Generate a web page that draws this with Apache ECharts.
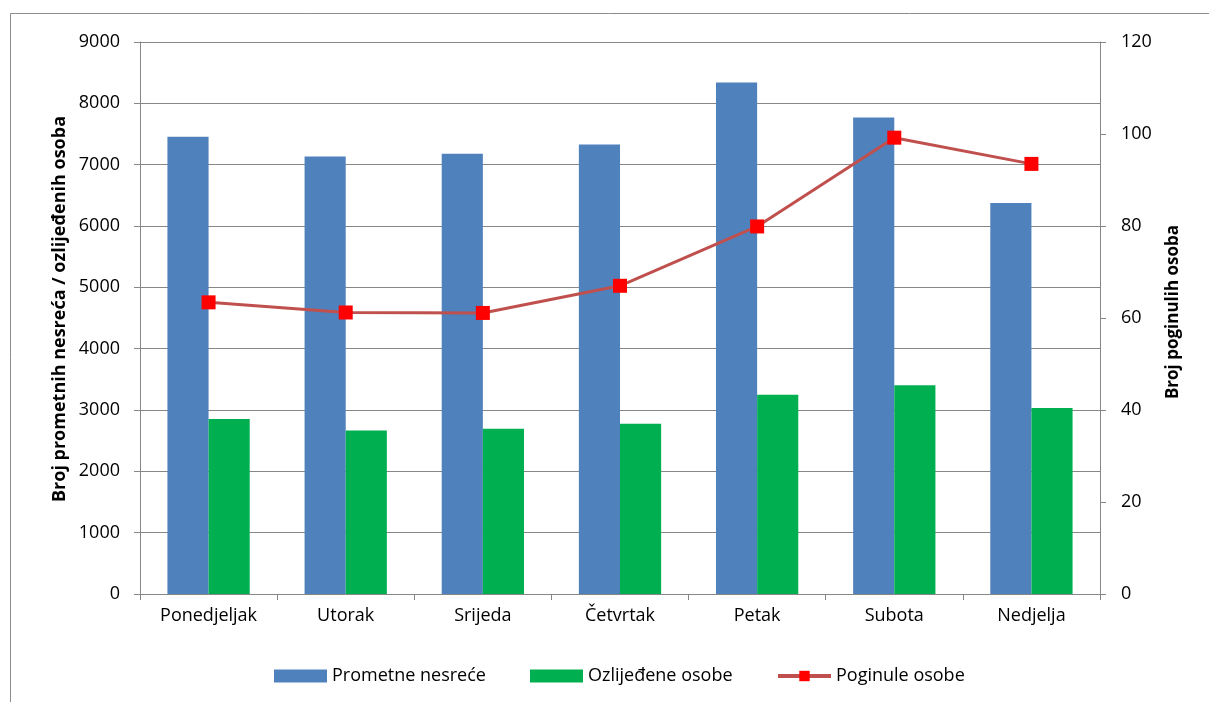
<!DOCTYPE html>
<html>
<head>
<meta charset="utf-8">
<script src="https://cdn.jsdelivr.net/npm/echarts@6/dist/echarts.min.js"></script>
<style>html,body{margin:0;padding:0;background:#fff}#c{width:1209px;height:702px}</style>
</head>
<body>
<div id="c"></div>
<script>
const categories = ['Ponedjeljak', 'Utorak', 'Srijeda', 'Četvrtak', 'Petak', 'Subota', 'Nedjelja'];
const prometneNesrece = [7455, 7135, 7180, 7330, 8340, 7770, 6375];
const ozlijedeneOsobe = [2853, 2667, 2695, 2776, 3250, 3402, 3032];
const poginuleOsobe = [63.4, 61.2, 61.1, 67.0, 79.9, 99.2, 93.5];
const seriesNames = ['Prometne nesreće', 'Ozlijeđene osobe', 'Poginule osobe'];
const leftTitle = 'Broj prometnih nesreća / ozlijeđenih osoba';
const rightTitle = 'Broj poginulih osoba';

const FONT = '"Open Sans", "Noto Sans", sans-serif';
const GRAY = '#878787';
const legendBase = {top: 662, itemWidth: 53, itemHeight: 13, textStyle: {fontFamily: FONT, fontSize: 18, color: '#000'}};
const chart = echarts.init(document.getElementById('c'), null, {renderer: 'canvas'});
chart.setOption({
  backgroundColor: '#fff',
  animation: false,
  textStyle: {fontFamily: FONT, color: '#000'},
  grid: {left: 140, right: 109, top: 42, bottom: 108, containLabel: false},
  legend: [
    Object.assign({left: 269, data: [{name: seriesNames[0], icon: 'rect'}]}, legendBase),
    Object.assign({left: 525, data: [{name: seriesNames[1], icon: 'rect'}]}, legendBase),
    Object.assign({left: 771, data: [{name: seriesNames[2], lineStyle: {width: 4}}]}, legendBase)
  ],
  xAxis: {
    type: 'category', data: categories, boundaryGap: true,
    axisLine: {lineStyle: {color: GRAY, width: 1}},
    axisTick: {show: true, length: 6, lineStyle: {color: GRAY}},
    axisLabel: {fontFamily: FONT, fontSize: 18, color: '#000', margin: 13}
  },
  yAxis: [
    {
      type: 'value', min: 0, max: 9000, interval: 1000, position: 'left',
      axisLine: {show: true, lineStyle: {color: GRAY, width: 1}},
      axisTick: {show: true, length: 6, lineStyle: {color: GRAY}},
      splitLine: {show: true, lineStyle: {color: GRAY, width: 1}},
      axisLabel: {fontFamily: FONT, fontSize: 18, color: '#000', margin: 20, formatter: v => String(v)}
    },
    {
      type: 'value', min: 0, max: 120, interval: 20, position: 'right',
      axisLine: {show: true, lineStyle: {color: GRAY, width: 1}},
      axisTick: {show: true, length: 6, lineStyle: {color: GRAY}},
      splitLine: {show: false},
      axisLabel: {fontFamily: FONT, fontSize: 18, color: '#000', margin: 21, formatter: v => String(v)}
    }
  ],
  series: [
    {
      name: seriesNames[0], type: 'bar', yAxisIndex: 0, data: prometneNesrece,
      barCategoryGap: '40%', barGap: '0%',
      itemStyle: {color: '#4F81BD'}
    },
    {
      name: seriesNames[1], type: 'bar', yAxisIndex: 0, data: ozlijedeneOsobe,
      barCategoryGap: '40%', barGap: '0%',
      itemStyle: {color: '#00B050'}
    },
    {
      name: seriesNames[2], type: 'line', yAxisIndex: 1, data: poginuleOsobe,
      symbol: 'rect', symbolSize: 14, z: 5,
      lineStyle: {color: '#C0504D', width: 3},
      itemStyle: {color: '#FF0000', borderWidth: 0}
    }
  ],
  graphic: [
    {
      type: 'polyline', silent: true,
      shape: {points: [[10.5, 702], [10.5, 13.5], [1209, 13.5]]},
      style: {stroke: '#8c8c8c', lineWidth: 1, fill: null}
    },
    {
      type: 'text', x: 60, y: 309, rotation: Math.PI / 2,
      style: {text: leftTitle, font: 'bold 18px ' + FONT, fill: '#000', align: 'center', verticalAlign: 'middle'}
    },
    {
      type: 'text', x: 1173, y: 312, rotation: Math.PI / 2,
      style: {text: rightTitle, font: 'bold 17px ' + FONT, fill: '#000', align: 'center', verticalAlign: 'middle'}
    }
  ]
});
</script>
</body>
</html>
